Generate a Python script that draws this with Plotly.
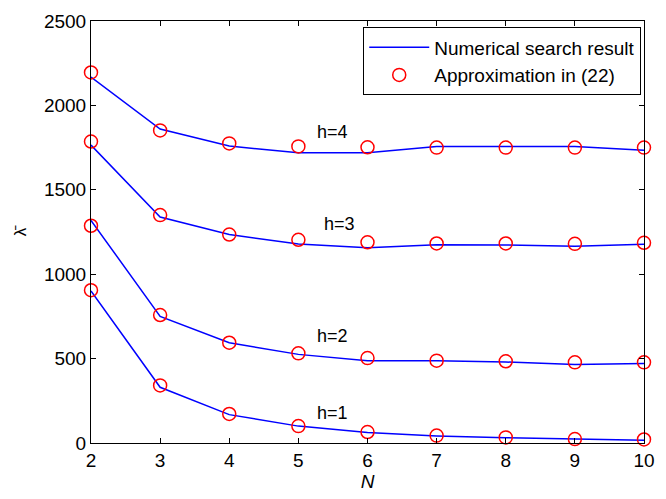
import plotly.graph_objects as go

N = [2, 3, 4, 5, 6, 7, 8, 9, 10]

# Numerical search result (lines)
line_h1 = [901, 330, 168, 100, 62, 42, 31, 25, 17]
line_h2 = [1319, 750, 594, 525, 488, 488, 480, 465, 471]
line_h3 = [1765, 1339, 1235, 1179, 1156, 1175, 1173, 1165, 1177]
line_h4 = [2168, 1860, 1759, 1719, 1719, 1757, 1757, 1757, 1734]

# Approximation in (22) (circles)
approx_h1 = [905, 341, 172, 100, 65, 44, 33, 23, 21]
approx_h2 = [1287, 758, 594, 531, 503, 488, 484, 478, 478]
approx_h3 = [1786, 1350, 1235, 1204, 1189, 1182, 1182, 1180, 1186]
approx_h4 = [2195, 1852, 1775, 1757, 1752, 1750, 1750, 1750, 1750]

h_labels = ["h=1", "h=2", "h=3", "h=4"]
label_x = [5.49, 5.5, 5.59, 5.49]
label_y = [179, 631, 1296, 1840]

x_ticks = [2, 3, 4, 5, 6, 7, 8, 9, 10]
y_ticks = [0, 500, 1000, 1500, 2000, 2500]

FONT = "Arial, Liberation Sans, sans-serif"

fig = go.Figure()
lines = [line_h1, line_h2, line_h3, line_h4]
approx = [approx_h1, approx_h2, approx_h3, approx_h4]
for i, ys in enumerate(lines):
    fig.add_trace(go.Scatter(
        x=N, y=ys, mode="lines", name="Numerical search result",
        line=dict(color="#0000ff", width=1.5),
        showlegend=(i == 0), legendrank=1,
    ))
for i, ys in enumerate(approx):
    fig.add_trace(go.Scatter(
        x=N, y=ys, mode="markers", name="Approximation in (22)",
        marker=dict(symbol="circle-open", color="#ff0000", size=13,
                    line=dict(width=1.5, color="#ff0000")),
        showlegend=(i == 0), legendrank=2, cliponaxis=False,
    ))

for t, x, y in zip(h_labels, label_x, label_y):
    fig.add_annotation(x=x, y=y, text=t, showarrow=False,
                       font=dict(size=18, color="black", family=FONT))

fig.update_layout(
    width=666, height=499,
    margin=dict(l=91, r=12, t=11, b=56),
    paper_bgcolor="white", plot_bgcolor="white",
    font=dict(family=FONT, size=19, color="black"),
    showlegend=True,
    legend=dict(
        x=0.995, y=0.985, xanchor="right", yanchor="top",
        bgcolor="white", bordercolor="black", borderwidth=1,
        font=dict(size=19, family=FONT, color="black"),
        tracegroupgap=0, itemwidth=60,
    ),
    xaxis=dict(
        range=[2, 10], tickvals=x_ticks, ticks="inside", ticklen=5,
        showgrid=False, zeroline=False, showline=True, linecolor="black",
        linewidth=1, mirror="ticks", tickcolor="black",
        tickfont=dict(size=19),
        title=dict(text="<i>N</i>", font=dict(size=19), standoff=4),
    ),
    yaxis=dict(
        range=[0, 2500], tickvals=y_ticks, ticks="inside", ticklen=5,
        showgrid=False, zeroline=False, showline=True, linecolor="black",
        linewidth=1, mirror="ticks", tickcolor="black",
        tickfont=dict(size=19),
        title=dict(text="\u03bb\u0304", font=dict(size=17), standoff=12),
    ),
)

fig.write_html("out.html")
